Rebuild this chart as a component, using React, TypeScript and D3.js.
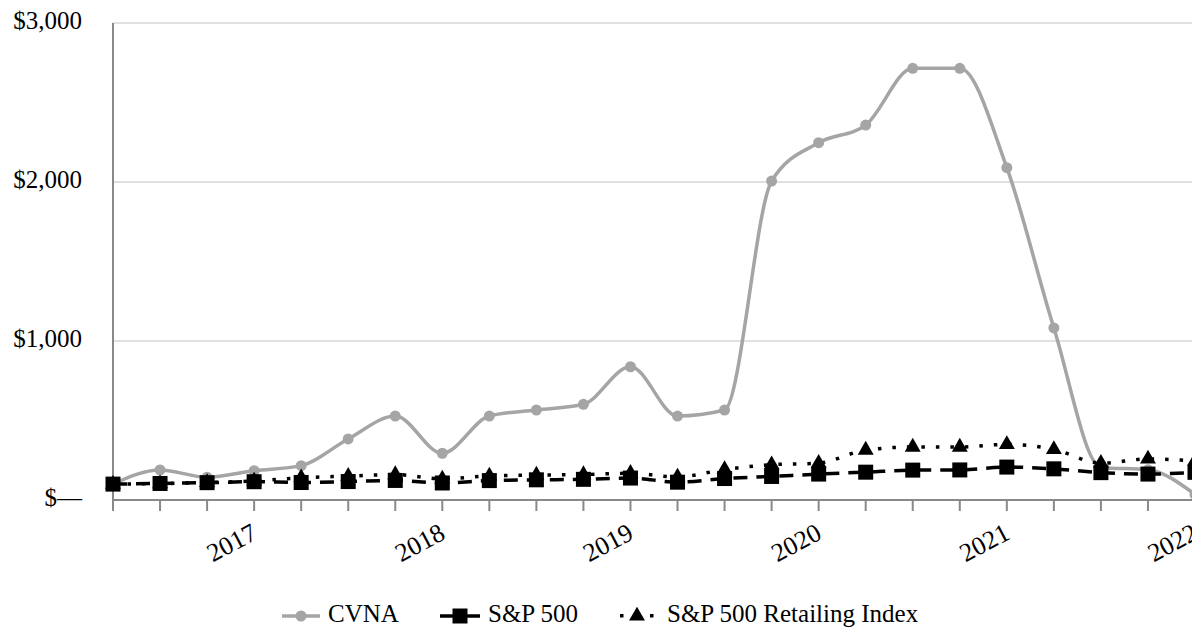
import * as d3 from "d3"

// quarter-end periods (IPO date first)
const periods = [
  "4/28/17", "6/30/17", "9/30/17", "12/31/17",
  "3/31/18", "6/30/18", "9/30/18", "12/31/18",
  "3/31/19", "6/30/19", "9/30/19", "12/31/19",
  "3/31/20", "6/30/20", "9/30/20", "12/31/20",
  "3/31/21", "6/30/21", "9/30/21", "12/31/21",
  "3/31/22", "6/30/22", "9/30/22", "12/31/22",
]

const cvna = [100, 189, 143, 184, 216, 384, 528, 294, 528, 566, 602, 838, 528, 566, 2006, 2247, 2358, 2715, 2715, 2090, 1082, 205, 190, 35]
const sp500 = [100, 104, 109, 115, 110, 116, 123, 107, 122, 127, 130, 138, 112, 135, 148, 163, 175, 188, 189, 207, 196, 172, 163, 174]
const retailing = [100, 103, 110, 120, 140, 150, 160, 133, 152, 157, 160, 168, 145, 192, 222, 232, 314, 333, 333, 350, 318, 232, 258, 245]

const yTicks = [0, 1000, 2000, 3000]
const yTickLabels = ["$\u2014", "$1,000", "$2,000", "$3,000"]

const width = 1192
const height = 631
const font = "'Liberation Serif', 'Times New Roman', serif"
const grey = "#a5a5a5"
const axisGrey = "#898989"
const legendY = 616

export default function App() {
  const x = d3.scalePoint<string>().domain(periods).range([113, 1195])
  const y = d3.scaleLinear().domain([0, 3000]).range([500, 23])

  const line = d3
    .line<number>()
    .x((_, i) => x(periods[i]) as number)
    .y(d => y(d))
    .curve(d3.curveMonotoneX)

  const tri = d3.symbol().type(d3.symbolTriangle).size(110)()

  return (
    <svg width={width} height={height} style={{ position: "absolute", left: 0, top: 0 }} fontFamily={font}>
      {/* gridlines */}
      {yTicks.slice(1).map(t => (
        <line key={t} x1={113} x2={width} y1={y(t)} y2={y(t)} stroke="#e0e0e0" strokeWidth={2} />
      ))}

      {/* y axis labels */}
      {yTicks.map((t, i) => (
        <text key={t} x={82} y={y(t)} textAnchor="end" dominantBaseline="middle" fontSize={25} fill="#000">
          {yTickLabels[i]}
        </text>
      ))}

      {/* axes */}
      <line x1={113} x2={113} y1={y(3000)} y2={y(0)} stroke={axisGrey} strokeWidth={2} />
      <line x1={112} x2={width} y1={y(0)} y2={y(0)} stroke={axisGrey} strokeWidth={2} />
      {periods.map(p => (
        <line key={p} x1={x(p)} x2={x(p)} y1={y(0)} y2={y(0) + 11} stroke={axisGrey} strokeWidth={2} />
      ))}

      {/* year labels at each year end */}
      {periods.filter(p => p.startsWith("12/31")).map(p => (
        <text
          key={p}
          transform={`translate(${(x(p) as number) - 4},${522}) rotate(-28)`}
          textAnchor="end"
          dy="0.7em"
          fontSize={26}
        >
          {"20" + p.slice(-2)}
        </text>
      ))}

      {/* CVNA */}
      <path d={line(cvna) ?? ""} fill="none" stroke={grey} strokeWidth={3.5} />
      {cvna.map((v, i) => (
        <circle key={i} cx={x(periods[i])} cy={y(v)} r={5.5} fill={grey} />
      ))}

      {/* S&P 500 */}
      <path d={line(sp500) ?? ""} fill="none" stroke="#000" strokeWidth={3.5} strokeDasharray="14 9" />
      {sp500.map((v, i) => (
        <rect key={i} x={(x(periods[i]) as number) - 7.5} y={y(v) - 7.5} width={15} height={15} fill="#000" />
      ))}

      {/* S&P 500 Retailing Index */}
      <path d={line(retailing) ?? ""} fill="none" stroke="#000" strokeWidth={3.5} strokeDasharray="3.5 11" />
      {retailing.map((v, i) => (
        <path key={i} d={tri ?? ""} transform={`translate(${x(periods[i])},${y(v)})`} fill="#000" />
      ))}

      {/* legend */}
      <g fontSize={25}>
        <line x1={282} x2={320} y1={legendY} y2={legendY} stroke={grey} strokeWidth={3.5} />
        <circle cx={301} cy={legendY} r={5.5} fill={grey} />
        <text x={328} y={legendY} dominantBaseline="middle">CVNA</text>

        <line x1={440} x2={480} y1={legendY} y2={legendY} stroke="#000" strokeWidth={3.5} />
        <rect x={452.5} y={legendY - 7.5} width={15} height={15} fill="#000" />
        <text x={488} y={legendY} dominantBaseline="middle">S&amp;P 500</text>

        <rect x={620} y={legendY - 2} width={3.5} height={3.5} fill="#000" />
        <path d={tri ?? ""} transform={`translate(637,${legendY})`} fill="#000" />
        <rect x={650} y={legendY - 2} width={3.5} height={3.5} fill="#000" />
        <text x={667} y={legendY} dominantBaseline="middle">S&amp;P 500 Retailing Index</text>
      </g>
    </svg>
  )
}
